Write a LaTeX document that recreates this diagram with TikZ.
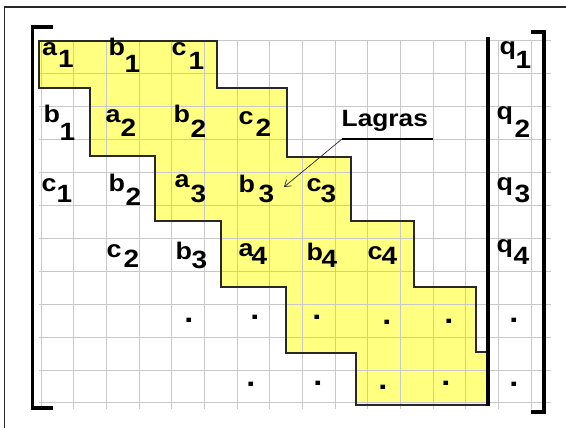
\documentclass[tikz,border=0pt]{standalone}
\usepackage{fontspec}
\setmainfont{Liberation Sans}
\newfontfamily\labfont[FakeStretch=1.12]{Liberation Sans}
\usetikzlibrary{arrows.meta}
\definecolor{gridc}{RGB}{200,200,200}
\definecolor{hl}{RGB}{255,255,128}
\definecolor{edgec}{RGB}{40,40,40}
\tikzset{
  lab/.style={anchor=base west, inner sep=0pt, font=\labfont\bfseries\fontsize{24}{24}\selectfont},
  subl/.style={anchor=base west, inner sep=0pt, font=\labfont\bfseries\fontsize{25}{25}\selectfont},
  dotm/.style={anchor=base, inner sep=0pt, font=\labfont\bfseries\fontsize{29}{29}\selectfont},
  gridline/.style={draw=gridc, line width=1pt},
  bracket/.style={line width=3.2pt, line join=miter, line cap=butt},
  outline/.style={draw=edgec, line width=1.2pt, line join=miter},
  frameline/.style={draw=edgec, line width=1.3pt},
}
\newcommand\lbl[7]{\node[lab] (#1) at (#2-0.5,#3) {#4}; \node[subl] (#1s) at (#5-0.5,#6) {#7};}
\newcommand\dotat[3]{\node[dotm] (#1) at (#2,#3+2) {.};}
\begin{document}
\begin{tikzpicture}[x=1pt,y=-1pt]
\useasboundingbox (0,0) rectangle (566,428);
% highlighted band
\fill[hl] (39,41) -- (217,41) -- (217,88) -- (287,88) -- (287,157) -- (351,157) -- (351,221)
  -- (414,221) -- (414,287) -- (476,287) -- (476,352) -- (488,352) -- (488,405) -- (356,405)
  -- (356,353) -- (286,353) -- (286,287) -- (221,287) -- (221,221) -- (155,221) -- (155,156)
  -- (90,156) -- (90,88) -- (39,88) -- cycle;
% grid
\foreach \k in {0,...,15} \draw[gridline] ({41+32.67*\k},41) -- ({41+32.67*\k},409);
\foreach \j in {0,...,11} \draw[gridline] (39,{41+32.9*\j}) -- (551,{41+32.9*\j});
% band outline
\draw[outline] (39,41) -- (217,41) -- (217,88) -- (287,88) -- (287,157) -- (351,157) -- (351,221)
  -- (414,221) -- (414,287) -- (476,287) -- (476,352) -- (488,352) -- (488,405) -- (356,405)
  -- (356,353) -- (286,353) -- (286,287) -- (221,287) -- (221,221) -- (155,221) -- (155,156)
  -- (90,156) -- (90,88) -- (39,88) -- cycle;
% frame
\draw[frameline] (4.5,428) -- (4.5,7) -- (566,7);
% brackets and separator
\draw[bracket] (53,27) -- (32.5,27) -- (32.5,408) -- (53,408);
\draw[bracket] (531,32) -- (544,32) -- (544,412) -- (531,412);
\draw[line width=3.2pt] (488,37) -- (488,406);
% row 1
\lbl{a1}{42.5}{56}{a}{58.5}{68}{1}
\lbl{b1a}{109}{56}{b}{125}{73}{1}
\lbl{c1a}{172}{56}{c}{189}{70}{1}
\lbl{q1}{500}{55}{q}{516}{69}{1}
% row 2
\lbl{b1b}{44}{123}{b}{60}{141}{1}
\lbl{a2}{106}{123}{a}{121}{137}{2}
\lbl{b2a}{174}{123}{b}{191}{138}{2}
\lbl{c2a}{239}{125}{c}{256}{137}{2}
\lbl{q2}{497}{120}{q}{515}{138}{2}
% row 3
\lbl{c1b}{42}{192}{c}{57}{202}{1}
\lbl{b2b}{109}{192}{b}{126}{205}{2}
\lbl{a3}{175}{188}{a}{191}{203}{3}
\lbl{b3a}{239}{193}{b}{259}{203}{3}
\lbl{c3}{307}{192}{c}{321}{203}{3}
\lbl{q3}{497}{190}{q}{515}{203}{3}
% row 4
\lbl{c2b}{107}{257}{c}{124}{267}{2}
\lbl{b3b}{176}{259}{b}{192}{269}{3}
\lbl{a4}{239}{256}{a}{252}{265}{4}
\lbl{b4}{307}{260}{b}{322}{267}{4}
\lbl{c4}{368}{259}{c}{382}{265}{4}
\lbl{q4}{497}{252}{q}{514}{264}{4}
% dots
\dotat{d51}{189}{320}
\dotat{d52}{255}{317}
\dotat{d53}{317}{317}
\dotat{d54}{387}{322}
\dotat{d55}{449}{321}
\dotat{d56}{514}{320}
\dotat{d61}{251}{384}
\dotat{d62}{318}{383}
\dotat{d63}{383}{387}
\dotat{d64}{446}{383}
\dotat{d65}{514}{384}
% Lagras callout
\node[lab, font=\labfont\bfseries\fontsize{23.5}{23.5}\selectfont] (lagras) at (341.5,127) {Lagras};
\coordinate (lagU) at (433,139);
\coordinate (lagK) at (342,139);
\coordinate (lagT) at (284,187);
\draw[draw=black, line width=1.2pt] (lagU) -- (lagK);
\draw[draw=edgec, line width=0.7pt, -{Straight Barb[length=6pt,width=8pt]}] (lagK) -- (lagT);
\end{tikzpicture}
\end{document}
